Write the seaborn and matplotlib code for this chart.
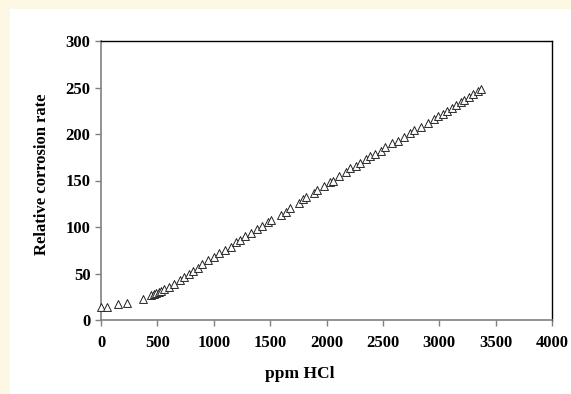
import matplotlib
matplotlib.use('Agg')
import matplotlib.pyplot as plt
from matplotlib.patches import Rectangle
import seaborn as sns
import pandas as pd

ppm_hcl = [0, 50, 150, 230, 370, 440, 470, 490, 510, 530, 560, 600, 650, 700,
           740, 780, 820, 860, 900, 950, 1000, 1050, 1100, 1150, 1200, 1230,
           1280, 1330, 1380, 1430, 1480, 1510, 1600, 1640, 1680, 1760, 1790,
           1820, 1890, 1920, 1980, 2030, 2060, 2110, 2170, 2210, 2260, 2300,
           2350, 2390, 2430, 2480, 2520, 2580, 2630, 2690, 2740, 2780, 2840,
           2900, 2950, 2990, 3030, 3070, 3110, 3150, 3190, 3220, 3260, 3300,
           3340, 3370]
corrosion_rate = [14, 14, 17, 18, 23, 27, 28, 29, 30, 31, 33, 36, 39, 43,
                  46, 50, 53, 56, 60, 64, 68, 72, 75, 79, 84, 86,
                  90, 94, 98, 101, 105, 107, 113, 116, 120, 126, 130,
                  132, 137, 140, 144, 148, 150, 155, 159, 163, 166, 169,
                  173, 176, 179, 182, 186, 190, 193, 197, 201, 204, 208,
                  212, 216, 219, 222, 225, 228, 231, 234, 237, 240, 243,
                  246, 248]
x_ticks = [0, 500, 1000, 1500, 2000, 2500, 3000, 3500, 4000]
y_ticks = [0, 50, 100, 150, 200, 250, 300]

df = pd.DataFrame({'ppm HCl': ppm_hcl, 'rate': corrosion_rate})

sns.set_style('white')
plt.rcParams['font.family'] = ['Liberation Serif', 'DejaVu Serif']
plt.rcParams['font.weight'] = 'bold'
plt.rcParams['text.color'] = 'black'
plt.rcParams['xtick.labelcolor'] = 'black'
plt.rcParams['ytick.labelcolor'] = 'black'

fig = plt.figure(figsize=(5.71, 3.94), dpi=100, facecolor='#fdf8e4')
fig.patches.append(Rectangle((10 / 571, 0), 1, 1 - 9 / 394, transform=fig.transFigure,
                             facecolor='white', edgecolor='none', zorder=-10))
ax = fig.add_axes([101 / 571, 1 - 320 / 394, 451 / 571, 279 / 394])

sns.scatterplot(data=df, x='ppm HCl', y='rate', marker='^', s=32,
                facecolor='white', edgecolor='#222222', linewidth=0.7, ax=ax,
                zorder=3, clip_on=False)

ax.set_xlim(0, 4000)
ax.set_ylim(0, 300)
ax.set_xticks(x_ticks)
ax.set_yticks(y_ticks)
ax.tick_params(axis='both', direction='out', length=4.5, width=1, color='#808080',
               labelsize=12, labelcolor='black', bottom=True, left=True)
ax.tick_params(axis='x', pad=6)
ax.tick_params(axis='y', pad=3)
for lbl in ax.get_xticklabels() + ax.get_yticklabels():
    lbl.set_fontweight('bold')

for side in ['left', 'bottom']:
    ax.spines[side].set_color('#808080')
    ax.spines[side].set_linewidth(1.2)
for side in ['top', 'right']:
    ax.spines[side].set_color('black')
    ax.spines[side].set_linewidth(1.0)

ax.set_xlabel('')
ax.set_ylabel('')
fig.text(300 / 571, 1 - 374 / 394, 'ppm HCl', fontsize=12.5, fontweight='bold',
         ha='center', va='center', color='black')
fig.text(42 / 571, 1 - 255 / 394, 'Relative corrosion rate', rotation=90,
         fontsize=12, fontweight='bold', ha='center', va='bottom', color='black')

fig.savefig('out.png', dpi=100, facecolor=fig.get_facecolor())
